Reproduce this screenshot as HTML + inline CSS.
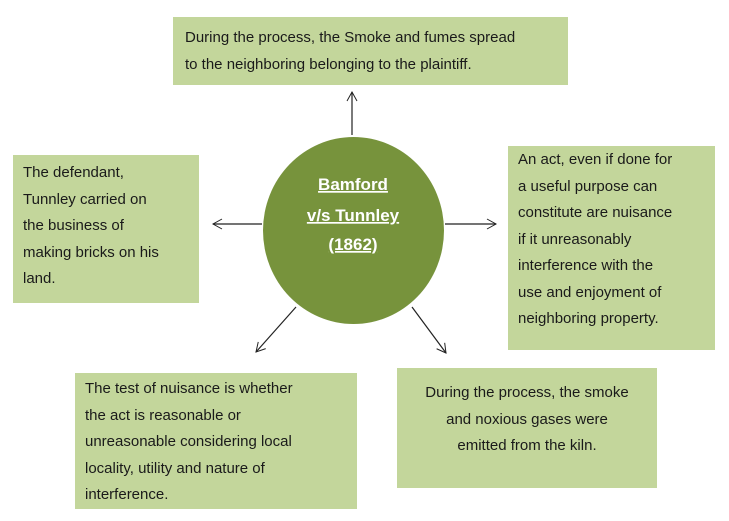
<!DOCTYPE html>
<html><head><style>
body{margin:0;width:729px;height:521px;background:#fff;position:relative;overflow:hidden;font-family:"Liberation Sans",sans-serif;font-size:15px;color:#1a1a1a}
.b{position:absolute;background:#c3d69b;box-sizing:border-box;line-height:26.5px}
</style></head><body>
<div class="b" style="left:173px;top:17px;width:395px;height:68px;padding:7px 0 0 12px;line-height:27px">During the process, the Smoke and fumes spread<br>to the neighboring belonging to the plaintiff.</div>
<div class="b" style="left:13px;top:155px;width:186px;height:148px;padding:5px 0 0 10px">The defendant,<br>Tunnley carried on<br>the business of<br>making bricks on his<br>land.</div>
<div class="b" style="left:508px;top:146px;width:207px;height:204px;padding:1px 0 0 10px">An act, even if done for<br>a useful purpose can<br>constitute are nuisance<br>if it unreasonably<br>interference with the<br>use and enjoyment of<br>neighboring property.</div>
<div class="b" style="left:75px;top:373px;width:282px;height:136px;padding:3px 0 0 10px">The test of nuisance is whether<br>the act is reasonable or<br>unreasonable considering local<br>locality, utility and nature of<br>interference.</div>
<div class="b" style="left:397px;top:368px;width:260px;height:120px;padding:12px 0 0 0;text-align:center">During the process, the smoke<br>and noxious gases were<br>emitted from the kiln.</div>
<svg width="729" height="521" style="position:absolute;left:0;top:0">
<defs><marker id="a" markerWidth="12" markerHeight="12" refX="10" refY="6" orient="auto" markerUnits="userSpaceOnUse"><path d="M1,1 L10,6 L1,11" fill="none" stroke="#222" stroke-width="1"/></marker></defs>
<ellipse cx="353.5" cy="230.5" rx="90.5" ry="93.5" fill="#77933c"/>
<g stroke="#222" stroke-width="1.2" marker-end="url(#a)">
<line x1="352" y1="135" x2="352" y2="92"/>
<line x1="262" y1="224" x2="213" y2="224"/>
<line x1="445" y1="224" x2="496" y2="224"/>
<line x1="296" y1="307" x2="256" y2="352"/>
<line x1="412" y1="307" x2="446" y2="353"/>
</g>
<g fill="#fff" font-family="Liberation Sans" font-weight="bold" font-size="17" text-anchor="middle" text-decoration="underline">
<text x="353" y="190">Bamford</text>
<text x="353" y="221">v/s Tunnley</text>
<text x="353" y="250">(1862)</text>
</g>
</svg>
</body></html>
